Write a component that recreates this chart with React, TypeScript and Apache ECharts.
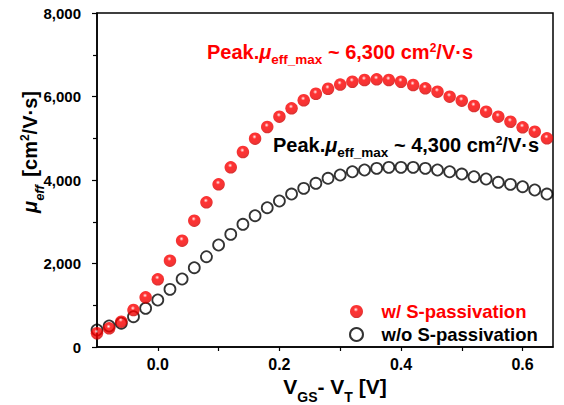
import React, { useEffect, useRef } from "react";
import * as echarts from "echarts";

const xValues = [
  -0.1, -0.08, -0.06, -0.04, -0.02, 0.0, 0.02, 0.04, 0.06, 0.08, 0.1, 0.12, 0.14, 0.16, 0.18, 0.2,
  0.22, 0.24, 0.26, 0.28, 0.3, 0.32, 0.34, 0.36, 0.38, 0.4, 0.42, 0.44, 0.46, 0.48, 0.5, 0.52,
  0.54, 0.56, 0.58, 0.6, 0.62, 0.64,
];
const withS = [
  330, 447, 606, 886, 1190, 1621, 2067, 2546, 3025, 3465, 3896, 4304, 4670, 4990, 5270, 5516,
  5717, 5910, 6065, 6185, 6285, 6354, 6395, 6411, 6395, 6354, 6275, 6195, 6115, 5995, 5900, 5772,
  5636, 5516, 5396, 5262, 5157, 4998,
];
const withoutS = [
  407, 503, 567, 726, 926, 1126, 1381, 1629, 1900, 2163, 2443, 2698, 2938, 3145, 3337, 3497, 3664,
  3800, 3920, 4040, 4120, 4198, 4239, 4279, 4303, 4303, 4303, 4279, 4239, 4198, 4143, 4079, 4024,
  3944, 3896, 3840, 3760, 3664,
];
const seriesNames = ["w/ S-passivation", "w/o S-passivation"];

const F = "'Liberation Sans', Arial, sans-serif";

// main size S, sub size s, sup size s2, line height L
function rich(color: string, S: number, s: number, s2: number, L: number, supShift: number) {
  const supPad = Math.max(0, L / 2 - supShift - s2 / 2);
  return {
    m: { fontSize: S, fontWeight: "bold", fontFamily: F, fill: color, lineHeight: L },
    mu: { fontSize: S, fontWeight: "bold", fontStyle: "italic", fontFamily: F, fill: color, lineHeight: L },
    sub: { fontSize: s, fontWeight: "bold", fontFamily: F, fill: color, lineHeight: s, verticalAlign: "bottom" },
    subi: {
      fontSize: s, fontWeight: "bold", fontStyle: "italic", fontFamily: F, fill: color,
      lineHeight: s, verticalAlign: "bottom", padding: [0, 3, 0, 0],
    },
    sup: { fontSize: s2, fontWeight: "bold", fontFamily: F, fill: color, verticalAlign: "top", padding: [supPad, 0, 0, 0] },
  };
}

export default function App() {
  const ref = useRef<HTMLDivElement>(null);
  useEffect(() => {
    if (!ref.current) return;
    const chart = echarts.init(ref.current, null, { renderer: "svg" });
    const redBall = {
      type: "radial",
      x: 0.45,
      y: 0.35,
      r: 0.62,
      colorStops: [
        { offset: 0, color: "#ffffff" },
        { offset: 0.1, color: "#ff9a9a" },
        { offset: 0.28, color: "#ff0000" },
        { offset: 0.8, color: "#f00000" },
        { offset: 1, color: "#cc0000" },
      ],
    };
    chart.setOption({
      animation: false,
      backgroundColor: "#ffffff",
      grid: {
        left: 97,
        right: 11,
        top: 13,
        bottom: 58,
        show: true,
        borderColor: "#000",
        borderWidth: 1.5,
        backgroundColor: "transparent",
      },
      xAxis: {
        type: "value",
        min: -0.1,
        max: 0.65,
        interval: 0.1,
        axisLine: { show: true, onZero: false, lineStyle: { color: "#000", width: 1.5 } },
        axisTick: { show: true, inside: false, length: 4, lineStyle: { color: "#000", width: 1.2 } },
        splitLine: { show: false },
        axisLabel: {
          showMinLabel: false,
          showMaxLabel: false,
          margin: 9,
          color: "#000",
          fontSize: 16,
          fontWeight: "bold",
          fontFamily: F,
          formatter: (v: number) => {
            const k = Math.round(v * 10);
            if (k < 0 || k % 2 !== 0 || k > 6) return "";
            return (k / 10).toFixed(1);
          },
        },
      },
      yAxis: {
        type: "value",
        min: 0,
        max: 8000,
        interval: 2000,
        axisLine: { show: true, onZero: false, lineStyle: { color: "#000", width: 1.5 } },
        axisTick: { show: true, inside: false, length: 5, lineStyle: { color: "#000", width: 1.2 } },
        minorTick: { show: true, splitNumber: 2, length: 4, lineStyle: { color: "#000", width: 1.2 } },
        splitLine: { show: false },
        axisLabel: {
          margin: 16,
          color: "#000",
          fontSize: 15,
          fontWeight: "bold",
          fontFamily: F,
          formatter: (v: number) => v.toLocaleString("en-US"),
        },
      },
      legend: {
        orient: "vertical",
        left: 344,
        top: 297,
        itemWidth: 40,
        itemHeight: 13,
        itemGap: 4,
        data: [
          { name: seriesNames[0], textStyle: { color: "#ff0000" } },
          { name: seriesNames[1], textStyle: { color: "#000" } },
        ],
        textStyle: { fontSize: 18.5, fontWeight: "bold", fontFamily: F },
      },
      series: [
        {
          name: seriesNames[1],
          type: "scatter",
          symbol: "circle",
          symbolSize: 11,
          data: xValues.map((x, i) => [x, withoutS[i]]),
          itemStyle: { color: "rgba(255,255,255,0)", borderColor: "#000", borderWidth: 1.8 },
          z: 2,
        },
        {
          name: seriesNames[0],
          type: "scatter",
          symbol: "circle",
          symbolSize: 12.5,
          data: xValues.map((x, i) => [x, withS[i]]),
          itemStyle: { color: redBall },
          z: 3,
        },
      ],
      graphic: [
        {
          type: "text",
          x: 207,
          y: 51.8,
          style: {
            text: "{m|Peak.}{mu|μ}{sub|eff_max}{m| ~ 6,300 cm}{sup|2}{m|/V·s}",
            rich: rich("#ff0000", 20, 13.5, 12, 30, 4),
            align: "left",
            verticalAlign: "middle",
          },
        },
        {
          type: "text",
          x: 273,
          y: 144.8,
          style: {
            text: "{m|Peak.}{mu|μ}{sub|eff_max}{m| ~ 4,300 cm}{sup|2}{m|/V·s}",
            rich: rich("#000000", 20, 13.5, 12, 30, 4),
            align: "left",
            verticalAlign: "middle",
          },
        },
        {
          type: "text",
          x: 335,
          y: 386,
          style: {
            text: "{m|V}{sub|GS}{m|- V}{sub|T}{m| [V]}",
            rich: rich("#000000", 21, 14, 13, 35, 6),
            align: "center",
            verticalAlign: "middle",
          },
        },
        {
          type: "text",
          x: 30,
          y: 152,
          rotation: Math.PI / 2,
          style: {
            text: "{mu|μ}{subi|eff}{m| [cm}{sup|2}{m|/V·s]}",
            rich: rich("#000000", 20, 13, 12, 31, 5),
            align: "center",
            verticalAlign: "middle",
          },
        },
      ],
    });
    return () => chart.dispose();
  }, []);
  return (
    <div
      ref={ref}
      style={{ position: "fixed", left: 0, top: 0, width: 564, height: 405, background: "#fff" }}
    />
  );
}
